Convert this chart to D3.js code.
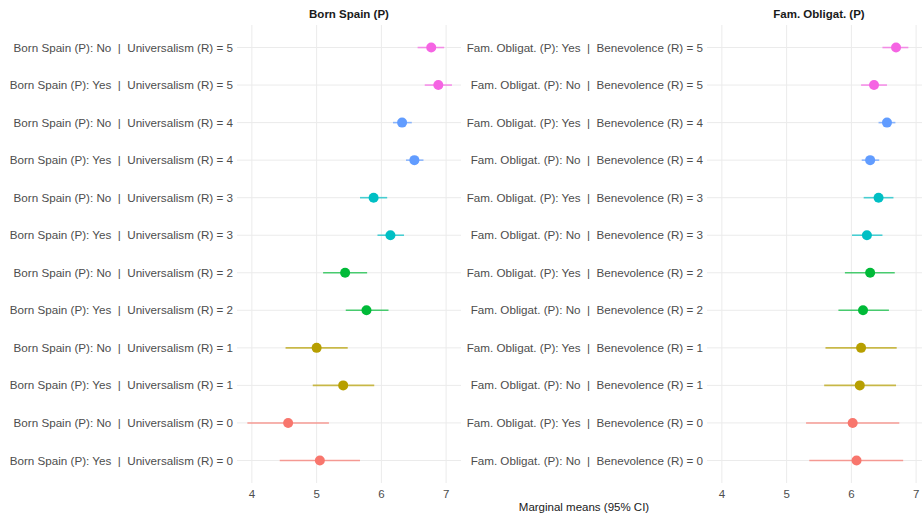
<!DOCTYPE html>
<html>
<head>
<meta charset="utf-8">
<script src="https://cdn.jsdelivr.net/npm/d3@7"></script>
<style>
  body { margin: 0; background: #fff; }
  svg { display: block; font-family: "Liberation Sans", Arial, sans-serif; }
</style>
</head>
<body>
<svg id="chart"></svg>
<script>
// data, top row first
const bornLabels = [
  'Born Spain (P): No  |  Universalism (R) = 5',
  'Born Spain (P): Yes  |  Universalism (R) = 5',
  'Born Spain (P): No  |  Universalism (R) = 4',
  'Born Spain (P): Yes  |  Universalism (R) = 4',
  'Born Spain (P): No  |  Universalism (R) = 3',
  'Born Spain (P): Yes  |  Universalism (R) = 3',
  'Born Spain (P): No  |  Universalism (R) = 2',
  'Born Spain (P): Yes  |  Universalism (R) = 2',
  'Born Spain (P): No  |  Universalism (R) = 1',
  'Born Spain (P): Yes  |  Universalism (R) = 1',
  'Born Spain (P): No  |  Universalism (R) = 0',
  'Born Spain (P): Yes  |  Universalism (R) = 0'
];
const bornLevel = [5, 5, 4, 4, 3, 3, 2, 2, 1, 1, 0, 0];
const bornMean = [6.77, 6.88, 6.32, 6.51, 5.88, 6.14, 5.44, 5.77, 5.00, 5.41, 4.56, 5.05];
const bornLow  = [6.56, 6.67, 6.18, 6.38, 5.67, 5.94, 5.10, 5.45, 4.52, 4.94, 3.93, 4.43];
const bornHigh = [6.97, 7.09, 6.47, 6.65, 6.09, 6.35, 5.78, 6.11, 5.48, 5.89, 5.19, 5.67];

const famLabels = [
  'Fam. Obligat. (P): Yes  |  Benevolence (R) = 5',
  'Fam. Obligat. (P): No  |  Benevolence (R) = 5',
  'Fam. Obligat. (P): Yes  |  Benevolence (R) = 4',
  'Fam. Obligat. (P): No  |  Benevolence (R) = 4',
  'Fam. Obligat. (P): Yes  |  Benevolence (R) = 3',
  'Fam. Obligat. (P): No  |  Benevolence (R) = 3',
  'Fam. Obligat. (P): Yes  |  Benevolence (R) = 2',
  'Fam. Obligat. (P): No  |  Benevolence (R) = 2',
  'Fam. Obligat. (P): Yes  |  Benevolence (R) = 1',
  'Fam. Obligat. (P): No  |  Benevolence (R) = 1',
  'Fam. Obligat. (P): Yes  |  Benevolence (R) = 0',
  'Fam. Obligat. (P): No  |  Benevolence (R) = 0'
];
const famLevel = [5, 5, 4, 4, 3, 3, 2, 2, 1, 1, 0, 0];
const famMean = [6.69, 6.35, 6.55, 6.29, 6.42, 6.24, 6.29, 6.18, 6.15, 6.13, 6.02, 6.08];
const famLow  = [6.48, 6.15, 6.42, 6.16, 6.19, 6.01, 5.90, 5.80, 5.60, 5.58, 5.30, 5.35];
const famHigh = [6.88, 6.55, 6.68, 6.43, 6.65, 6.48, 6.67, 6.58, 6.70, 6.69, 6.74, 6.80];

const xTicks = [4, 5, 6, 7];
const levels = [0, 1, 2, 3, 4, 5];
const palette = ['#F8766D', '#B79F00', '#00BA38', '#00BFC4', '#619CFF', '#F564E3'];

const width = 922, height = 517;
const svg = d3.select('#chart').attr('width', width).attr('height', height);

const color = d3.scaleOrdinal().domain(levels).range(palette);
const plotTop = 25, plotBottom = 483;

const panels = [
  { title: 'Born Spain (P)', labels: bornLabels, level: bornLevel, mean: bornMean, low: bornLow, high: bornHigh, x0: 237, x1: 461 },
  { title: 'Fam. Obligat. (P)', labels: famLabels, level: famLevel, mean: famMean, low: famLow, high: famHigh, x0: 707, x1: 931 }
];

panels.forEach(p => {
  const x = d3.scaleLinear().domain([3.77, 7.23]).range([p.x0, p.x1]);
  const y = d3.scalePoint().domain(p.labels).range([plotTop, plotBottom]).padding(0.6);
  const rows = p.labels.map((l, i) => ({ label: l, level: p.level[i], mean: p.mean[i], low: p.low[i], high: p.high[i] }));

  const g = svg.append('g');

  // grid
  g.selectAll('.vgrid').data(xTicks).join('line')
    .attr('x1', d => x(d)).attr('x2', d => x(d))
    .attr('y1', plotTop).attr('y2', plotBottom)
    .attr('stroke', '#ebebeb').attr('stroke-width', 1);
  g.selectAll('.hgrid').data(p.labels).join('line')
    .attr('x1', p.x0).attr('x2', p.x1)
    .attr('y1', d => y(d)).attr('y2', d => y(d))
    .attr('stroke', '#ebebeb').attr('stroke-width', 1);

  // y labels
  g.selectAll('.ylab').data(p.labels).join('text')
    .attr('x', p.x0 - 4).attr('y', d => y(d))
    .attr('dy', '0.35em')
    .attr('text-anchor', 'end')
    .style('white-space', 'pre')
    .attr('font-size', 11.65).attr('fill', '#4d4d4d')
    .text(d => d);

  // x tick labels
  g.selectAll('.xlab').data(xTicks).join('text')
    .attr('x', d => x(d)).attr('y', 494).attr('dy', '0.35em')
    .attr('text-anchor', 'middle')
    .attr('font-size', 11.5).attr('fill', '#4d4d4d')
    .text(d => d);

  // facet title
  g.append('text')
    .attr('x', (p.x0 + p.x1) / 2).attr('y', 14).attr('dy', '0.35em')
    .attr('text-anchor', 'middle')
    .attr('font-size', 11.5).attr('font-weight', 'bold').attr('fill', '#1a1a1a')
    .text(p.title);

  // CI lines
  g.selectAll('.ci').data(rows).join('line')
    .attr('x1', d => x(d.low)).attr('x2', d => x(d.high))
    .attr('y1', d => y(d.label)).attr('y2', d => y(d.label))
    .attr('stroke', d => color(d.level))
    .attr('stroke-opacity', 0.7)
    .attr('stroke-width', 1.6);

  // points
  g.selectAll('.pt').data(rows).join('circle')
    .attr('cx', d => x(d.mean)).attr('cy', d => y(d.label))
    .attr('r', 5)
    .attr('fill', d => color(d.level));
});

svg.append('text')
  .attr('x', 584).attr('y', 507).attr('dy', '0.35em')
  .attr('text-anchor', 'middle')
  .attr('font-size', 11.5).attr('fill', '#1a1a1a')
  .text('Marginal means (95% CI)');
</script>
</body>
</html>
